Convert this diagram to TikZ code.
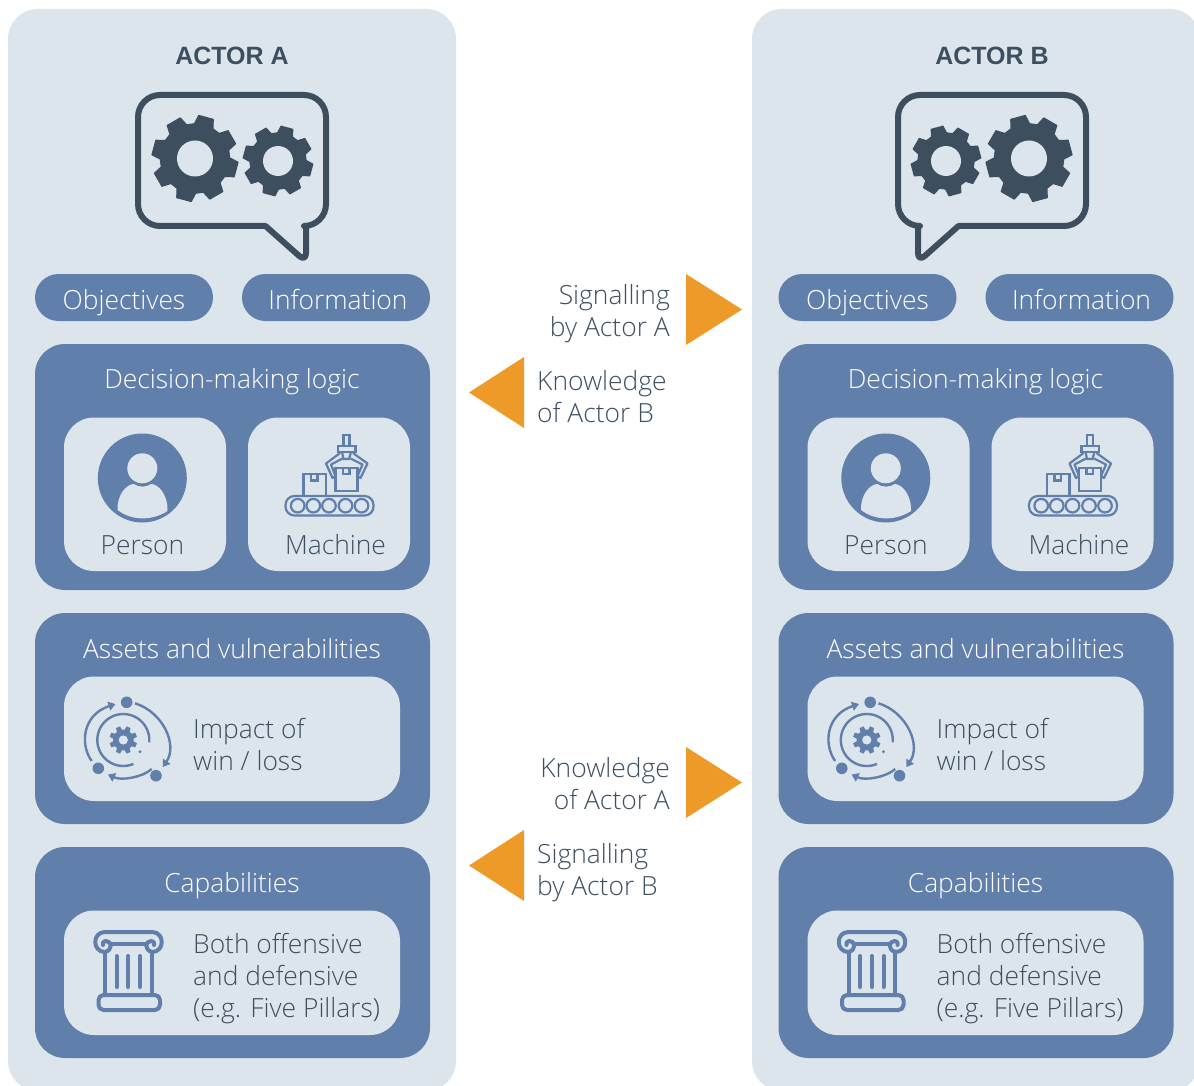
\documentclass[tikz,border=0pt]{standalone}
\usepackage{fontspec}
\setmainfont{Open Sans}[UprightFont=* Light,BoldFont=* Bold]
\newfontfamily\titlefont{Liberation Sans}[BoldFont=* Bold]
\usetikzlibrary{arrows.meta}
\definecolor{panel}{HTML}{DCE5EC}
\definecolor{blue}{HTML}{617FAB}
\definecolor{ink}{HTML}{3D4F5F}
\definecolor{orange}{HTML}{EE9A29}
\tikzset{
  panelbox/.style={fill=panel,rounded corners=30pt},
  bluebox/.style={fill=blue,rounded corners=30pt},
  cardbox/.style={fill=panel,rounded corners=30pt},
  pillbox/.style={fill=blue,rounded corners=23.5pt},
  lighttxt/.style={text=white,font=\fontsize{26.4}{32}\selectfont,inner sep=0pt,anchor=base},
  darktxt/.style={text=ink,font=\fontsize{26.4}{32}\selectfont,inner sep=0pt,anchor=base},
  blocktxt/.style={text=ink,font=\fontsize{26.4}{32}\selectfont,inner sep=0pt,align=left,anchor=west},
  titletxt/.style={text=ink,font=\titlefont\fontsize{25}{32}\selectfont\bfseries,inner sep=0pt,anchor=base},
  sidetxt/.style={text=ink,font=\fontsize{26.4}{32}\selectfont,inner sep=0pt},
  iconline/.style={draw=blue,line width=2.2pt,fill=none},
  tri/.style={fill=orange}
}
% gear: centre, outer radius, hole radius
\newcommand{\gearshape}[4]{%
  \fill[ink,draw=ink,line width=1.2pt,line join=round]
    ({#1+#3*0.78*cos(15-16)},{#2+#3*0.78*sin(15-16)})
    \foreach \a in {15,60,...,330}{
      -- ({#1+#3*0.78*cos(\a-16)},{#2+#3*0.78*sin(\a-16)})
      -- ({#1+#3*0.97*cos(\a-10)},{#2+#3*0.97*sin(\a-10)})
      -- ({#1+#3*0.97*cos(\a+10)},{#2+#3*0.97*sin(\a+10)})
      -- ({#1+#3*0.78*cos(\a+16)},{#2+#3*0.78*sin(\a+16)})
    } -- cycle;
  \fill[panel] (#1,#2) circle[radius=#4];
}
% speech bubble, coordinates relative to its centre line x=232
\newcommand{\speech}[2]{%
  \begin{scope}[shift={(#1,0)},xscale=#2]
    \draw[ink,line width=6pt,line join=round,rounded corners=22pt]
      (-94,95) -- (94,95) -- (94,226) [rounded corners=0pt] -- (74,226)
      [rounded corners=9pt] -- (74,262) [rounded corners=0pt] -- (33.5,226)
      [rounded corners=22pt] -- (-94,226) -- cycle;
    \gearshape{-37}{158.5}{44.5}{18}
    \gearshape{46}{161}{36}{15}
  \end{scope}}
\newcommand{\personicon}{%
  \fill[blue] (142.3,478) circle[radius=44.5];
  \fill[panel] (142.3,468.3) circle[radius=15];
  \fill[panel] (117.5,510) .. controls (117,494) and (127,484) .. (134,484)
     .. controls (138,487.5) and (147,487.5) .. (151,484)
     .. controls (158,484) and (168,494) .. (167.5,511)
     .. controls (152,521) and (132,521) .. (117.5,510) -- cycle;
}
\newcommand{\machineicon}{%
  \draw[iconline,rounded corners=9pt] (285.5,496) rectangle (373.5,515.5);
  \foreach \x in {297.7,313.3,329,345.5,361.5}{\draw[iconline] (\x,505.7) circle[radius=6.8];}
  \draw[iconline] (303.5,496) -- (303.5,474) -- (326,474) -- (326,496);
  \draw[iconline] (311,474) -- (311,480.5) -- (317.5,480.5) -- (317.5,474);
  \draw[iconline] (335.5,468) -- (335.5,491) -- (357.5,491) -- (357.5,468) -- cycle;
  \draw[iconline] (343,468) -- (343,474) -- (349.5,474) -- (349.5,468);
  \draw[iconline] (343.5,446) -- (343.5,435) -- (349.5,435) -- (349.5,446);
  \draw[iconline] (338,446) rectangle (355.5,452);
  \draw[iconline] (342,452) -- (343.5,459) -- (349,459) -- (351,452);
  \draw[iconline,line join=round] (340,453) -- (326,463.5) -- (332.5,478) -- (335.5,476) -- (331,464.5) -- (342.5,458.5);
  \draw[iconline,line join=round] (353,453) -- (367.5,463.5) -- (360.5,478) -- (357.5,476) -- (362.5,464.5) -- (350.5,458.5);
}
\newcommand{\cycleicon}{%
  \tikzset{cyc/.style={draw=blue,line width=2.4pt,fill=none,-{Triangle[length=7pt,width=9pt]}}}
  \draw[cyc] (91.7,761) .. controls (80,745) and (82,715) .. (115.5,704);
  \draw[cyc] (135,703.3) .. controls (163,712) and (178,745) .. (162.7,767);
  \draw[cyc] (151.7,769) .. controls (143,777) and (122,781) .. (108,774.5);
  \draw[blue,line width=2.4pt] plot[domain=67:365,samples=50] ({123.3+26*cos(\x)},{740+26*sin(\x)});
  \fill[blue] (126.7,702.3) circle[radius=5.8] (98.3,768.3) circle[radius=5.8] (156,775.7) circle[radius=5.8] (140,751.7) circle[radius=1.6];
  \fill[blue]
    ({123.3+14*0.74*cos(6)},{740+14*0.74*sin(6)})
    \foreach \a in {22.5,67.5,...,340}{
      -- ({123.3+14*0.74*cos(\a-15)},{740+14*0.74*sin(\a-15)})
      -- ({123.3+14*cos(\a-9)},{740+14*sin(\a-9)})
      -- ({123.3+14*cos(\a+9)},{740+14*sin(\a+9)})
      -- ({123.3+14*0.74*cos(\a+15)},{740+14*0.74*sin(\a+15)})
    } -- cycle;
  \fill[panel] (123.3,740) circle[radius=4.6];
}
\newcommand{\pillaricon}{%
  \tikzset{pil/.style={draw=blue,line width=4pt,fill=none,line cap=round,line join=round}}
  \draw[pil] (105,952) .. controls (92,952) and (92,932) .. (105,932) -- (152,932)
     .. controls (165,932) and (165,952) .. (152,952);
  \draw[pil] (105,952) .. controls (113,950) and (112,941) .. (106,941) .. controls (103,941) and (102,944) .. (103,945);
  \draw[pil] (152,952) .. controls (144,950) and (145,941) .. (151,941) .. controls (154,941) and (155,944) .. (154,945);
  \draw[pil] (111.7,944) -- (145,944);
  \draw[pil] (105,952) -- (105,995);
  \draw[pil] (151.7,952) -- (151.7,995);
  \draw[pil,rounded corners=5pt] (98.5,995) rectangle (160,1010);
  \foreach \x in {116.7,128.3,140}{\draw[pil] (\x,956) -- (\x,987);}
}
% one actor's column, #1 name prefix, #2 x offset
\newcommand{\actorcolumn}[2]{%
  \begin{scope}[shift={(#2,0)}]
    \fill[bluebox] (35,344) rectangle (430,590);
    \fill[bluebox] (35,613) rectangle (430,824);
    \fill[bluebox] (35,847) rectangle (430,1058);
    \fill[pillbox] (35,274) rectangle (213,321);
    \fill[pillbox] (242,274) rectangle (430,321);
    \fill[cardbox] (64,417.5) rectangle (226,571);
    \fill[cardbox] (248,417.5) rectangle (410,571);
    \fill[cardbox] (64,676.5) rectangle (400,801);
    \fill[cardbox] (64,910.5) rectangle (400,1035);
    \node[lighttxt] (#1obj) at (124,309) {Objectives};
    \node[lighttxt] (#1inf) at (338,309) {Information};
    \node[lighttxt] (#1dec) at (232,388) {Decision-making logic};
    \node[darktxt] (#1per) at (142.5,554) {Person};
    \node[darktxt] (#1mac) at (335.5,554) {Machine};
    \node[lighttxt] (#1ass) at (232,658) {Assets and vulnerabilities};
    \node[blocktxt] (#1imp) at (193,745) {Impact of\\win / loss};
    \node[lighttxt] (#1cap) at (232,892) {Capabilities};
    \node[blocktxt] (#1bot) at (193,979) {Both offensive\\and defensive\\(e.g. Five Pillars)};
    \personicon
    \machineicon
    \cycleicon
    \pillaricon
  \end{scope}}
\begin{document}
\begin{tikzpicture}[x=1pt,y=-1pt]
  \useasboundingbox (0,0) rectangle (1194,1086);
  \clip (0,0) rectangle (1194,1086);
  \fill[white] (0,0) rectangle (1194,1086);
  \fill[panelbox] (8,9) rectangle (456,1091);
  \fill[panelbox] (752,9) rectangle (1200,1091);
  \node[titletxt] (titleA) at (232,65) {ACTOR A};
  \node[titletxt] (titleB) at (992,65) {ACTOR B};
  \speech{232}{1}
  \speech{992}{-1}
  \actorcolumn{a}{0}
  \actorcolumn{b}{743.5}
  \fill[tri] (686,274) -- (742,309.5) -- (686,345) -- cycle;
  \fill[tri] (524,357) -- (469,392.5) -- (524,428) -- cycle;
  \fill[tri] (686,747) -- (742,782.5) -- (686,818) -- cycle;
  \fill[tri] (524,830) -- (469,865.5) -- (524,901) -- cycle;
  \node[sidetxt,align=right,anchor=east] (sigA) at (670,314) {Signalling\\by Actor A};
  \node[sidetxt,align=left,anchor=west] (knoB) at (537,397) {Knowledge\\of Actor B};
  \node[sidetxt,align=right,anchor=east] (knoA) at (670,784) {Knowledge\\of Actor A};
  \node[sidetxt,align=left,anchor=west] (sigB) at (537,873) {Signalling\\by Actor B};
\end{tikzpicture}
\end{document}
